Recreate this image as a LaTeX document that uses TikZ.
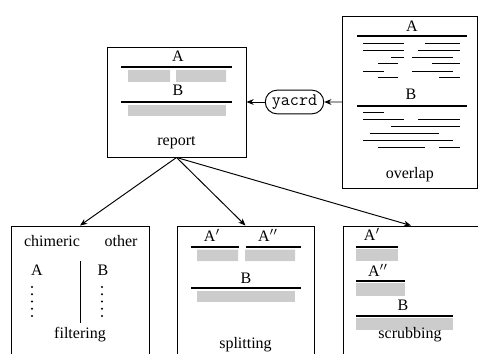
\documentclass[tikz,border=0pt]{standalone}
\usepackage{fontspec}
\setmainfont{Liberation Serif}
\usetikzlibrary{shapes.misc,positioning,arrows.meta}
\tikzset{>={Stealth[length=4.5pt,width=3.6pt]}}
\tikzset{
  stagebox/.style={draw, line width=0.6pt, inner sep=0pt},
  contig/.style={line width=1.8pt},
  read/.style={line width=0.6pt},
  cover/.style={fill=black!20},
  lbl/.style={inner sep=0pt},
  stagename/.style={inner sep=0pt, anchor=base},
  flow/.style={->, line width=0.6pt},
}

\begin{document}
\begin{tikzpicture}[x=0.625pt, y=-0.625pt]
\useasboundingbox (0,0) rectangle (478,354);
\clip (0,0) rectangle (478,354);

% the five stages
\node[stagebox, minimum width=86.9pt, minimum height=68.75pt] (report) at (176.5,102) {};
\node[stagebox, minimum width=84.4pt, minimum height=107.5pt] (overlap) at (409.75,102) {};
\node[draw, rounded rectangle, line width=0.6pt, inner xsep=2.5pt, inner ysep=2.8pt,
      font=\ttfamily\fontsize{11}{13}\selectfont] (yacrd) at (294.5,102) {yacrd};
\node[stagebox, minimum width=86.25pt, minimum height=87.5pt] (filtering) at (80,296) {};
\node[stagebox, minimum width=85.6pt, minimum height=87.5pt] (splitting) at (245.5,296) {};
\node[stagebox, minimum width=85pt, minimum height=87.5pt] (scrubbing) at (411,296) {};

\draw[flow] (overlap.west |- yacrd) -- (yacrd);
\draw[flow] (yacrd) -- (yacrd -| report.east);
\draw[flow] (report.south) -- (filtering.north);
\draw[flow] (report.south) -- (splitting.north);
\draw[flow] (report.south) -- (scrubbing.north);

% overlap
\node[lbl] (ov-a) at (412,26) {A};
\draw[contig] (357,36) -- (467,36);
\draw[read] (363,43) -- (404,43) (425,43) -- (460,43);
\draw[read] (363,50) -- (404,50) (418,50) -- (460,50);
\draw[read] (391,57) -- (404,57) (412,57) -- (453,57);
\draw[read] (378,63) -- (398,63) (432,63) -- (460,63);
\draw[read] (363,71) -- (384,71) (412,71) -- (453,71);
\draw[read] (378,77) -- (398,77) (439,77) -- (460,77);
\node[lbl] (ov-b) at (411,94) {B};
\draw[contig] (357,106) -- (467,106);
\draw[read] (363,112) -- (384,112);
\draw[read] (363,119) -- (404,119) (418,119) -- (460,119);
\draw[read] (391,126) -- (460,126);
\draw[read] (370,133) -- (439,133);
\draw[read] (363,140) -- (453,140);
\draw[read] (378,147) -- (425,147) (439,147) -- (460,147);
\node[stagename] (ov-name) at (409.75,178) {overlap};

% report
\node[lbl] (rp-a) at (178,56) {A};
\draw[contig] (121,67) -- (232,67);
\fill[cover] (128,70) rectangle (170,82) (176,70) rectangle (226,82);
\node[lbl] (rp-b) at (178,90.5) {B};
\draw[contig] (121,102) -- (232,102);
\fill[cover] (128,105) rectangle (226,116);
\node[stagename] (rp-name) at (176.5,146) {report};

% filtering
\node[stagename] (fl-chim) at (52,246) {chimeric};
\node[stagename] (fl-other) at (121,246) {other};
\node[lbl] (fl-a) at (37,270) {A};
\node[lbl] (fl-b) at (103,270) {B};
\foreach \i in {0,...,4} {
  \fill (32,287+7.25*\i) circle (0.7pt);
  \fill (102,287+7.25*\i) circle (0.7pt);
}
\draw[line width=0.6pt] (80,261) -- (80,323);
\node[stagename] (fl-name) at (80,338) {filtering};

% splitting
\node[lbl] (sp-a1) at (212,235) {A$'$};
\node[lbl] (sp-a2) at (268,235) {A$''$};
\draw[contig] (191,247) -- (239,247) (246,247) -- (301,247);
\fill[cover] (197,249.5) rectangle (238,261) (245,249.5) rectangle (295,261);
\node[lbl] (sp-b) at (246,278) {B};
\draw[contig] (191,288) -- (301,288);
\fill[cover] (197,290.5) rectangle (295,302);
\node[stagename] (sp-name) at (245.5,348) {splitting};

% scrubbing
\node[lbl] (sc-a1) at (372,234) {A$'$};
\draw[contig] (356,247) -- (398,247);
\fill[cover] (356,248.5) rectangle (398,261);
\node[lbl] (sc-a2) at (378,270) {A$''$};
\draw[contig] (356,281) -- (405,281);
\fill[cover] (356,282.5) rectangle (405,296);
\node[lbl] (sc-b) at (403,305) {B};
\draw[contig] (356,316) -- (453,316);
\fill[cover] (356,317.5) rectangle (453,330);
\node[stagename] (sc-name) at (410,338) {scrubbing};
\end{tikzpicture}
\end{document}
